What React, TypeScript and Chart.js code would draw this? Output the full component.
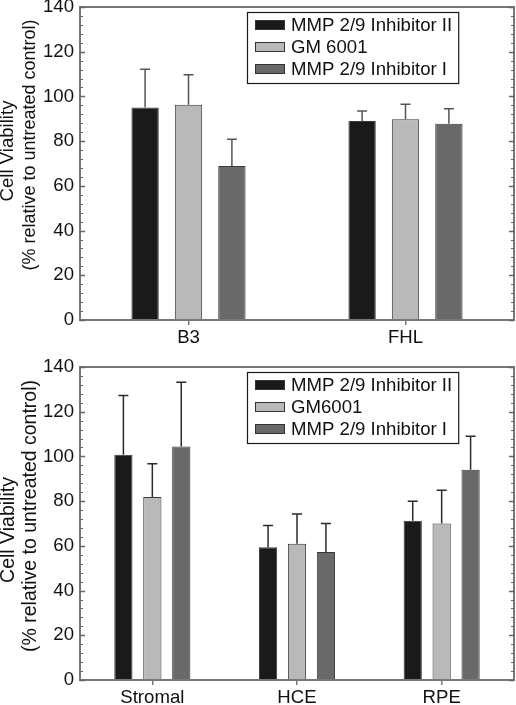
import React, { useEffect, useRef } from 'react';
import { Chart, registerables } from 'chart.js';

Chart.register(...registerables);

const FONT = "'Liberation Sans', Arial, Helvetica, sans-serif";

// ---------- data ----------
const topCategories = ['B3', 'FHL'];
const topSeriesLabels = ['MMP 2/9 Inhibitor II', 'GM 6001', 'MMP 2/9 Inhibitor I'];
const topInhibitorII = [95.1, 89.0];
const topGM6001 = [96.3, 89.8];
const topInhibitorI = [68.9, 87.8];
const topErrInhibitorII = [17.1, 4.5];
const topErrGM6001 = [13.4, 6.7];
const topErrInhibitorI = [12.0, 6.7];

const bottomCategories = ['Stromal', 'HCE', 'RPE'];
const bottomSeriesLabels = ['MMP 2/9 Inhibitor II', 'GM6001', 'MMP 2/9 Inhibitor I'];
const bottomInhibitorII = [100.7, 59.4, 71.2];
const bottomGM6001 = [81.9, 60.9, 70.0];
const bottomInhibitorI = [104.4, 57.2, 94.0];
const bottomErrInhibitorII = [26.5, 9.7, 8.8];
const bottomErrGM6001 = [14.8, 13.3, 14.9];
const bottomErrInhibitorI = [28.8, 12.8, 15.0];

const yMin = 0;
const yMax = 140;
const yMajorStep = 20;
const yMinorStep = 4;
const yTitleLines = ['Cell Viability', '(% relative to untreated control)'];

const seriesColors = ['#1a1a1a', '#b9b9b9', '#696969'];

const TEXT_SIZE = 18.6;

// ---------- plugin ----------
const decorPlugin = {
  id: 'decor',
  afterDatasetsDraw(chart: any, _args: any, opts: any) {
    const ctx = chart.ctx;
    const yScale = chart.scales.y;
    ctx.save();
    ctx.lineWidth = 1.5;
    ctx.strokeStyle = opts.errorColor;
    chart.data.datasets.forEach((ds: any, i: number) => {
      const meta = chart.getDatasetMeta(i);
      meta.data.forEach((bar: any, j: number) => {
        const v = ds.data[j];
        const e = ds.errors[j];
        const yTop = yScale.getPixelForValue(v + e);
        ctx.beginPath();
        ctx.moveTo(bar.x, bar.y);
        ctx.lineTo(bar.x, yTop);
        ctx.moveTo(bar.x - 5, yTop);
        ctx.lineTo(bar.x + 5, yTop);
        ctx.stroke();
      });
    });
    ctx.restore();
  },
  afterDraw(chart: any, _args: any, opts: any) {
    const ctx = chart.ctx;
    const area = chart.chartArea;
    const yScale = chart.scales.y;
    ctx.save();

    // frame
    ctx.strokeStyle = '#777777';
    ctx.lineWidth = 2;
    ctx.strokeRect(area.left, area.top, area.right - area.left, area.bottom - area.top);

    // y ticks (inward, both sides)
    ctx.lineWidth = 1;
    ctx.strokeStyle = '#666666';
    for (let v = yMin; v <= yMax + 1e-9; v += yMinorStep) {
      const isMajor = Math.abs(v % yMajorStep) < 1e-9;
      if (isMajor) continue;
      const y = Math.round(yScale.getPixelForValue(v)) + 0.5;
      ctx.beginPath();
      ctx.moveTo(area.left, y);
      ctx.lineTo(area.left + 3, y);
      ctx.moveTo(area.right, y);
      ctx.lineTo(area.right - 3, y);
      ctx.stroke();
    }
    ctx.lineWidth = 1.5;
    for (let v = yMin; v <= yMax + 1e-9; v += yMajorStep) {
      const y = Math.round(yScale.getPixelForValue(v)) + 0.5;
      ctx.beginPath();
      ctx.moveTo(area.left, y);
      ctx.lineTo(area.left + 5, y);
      ctx.moveTo(area.right, y);
      ctx.lineTo(area.right - 5, y);
      ctx.stroke();
    }

    // legend
    ctx.font = `${TEXT_SIZE}px ${FONT}`;
    const labels: string[] = chart.data.datasets.map((d: any) => d.label);
    const textW = Math.max(...labels.map((l) => ctx.measureText(l).width));
    const boxW = 44 + textW + 6;
    const boxH = 71;
    const boxRight = area.right - 56;
    const boxLeft = Math.round(boxRight - boxW);
    const boxTop = area.top + 5;
    ctx.fillStyle = '#ffffff';
    ctx.fillRect(boxLeft, boxTop, boxW, boxH);
    ctx.strokeStyle = '#1a1a1a';
    ctx.lineWidth = 1.2;
    ctx.strokeRect(boxLeft + 0.5, boxTop + 0.5, boxW, boxH);
    chart.data.datasets.forEach((d: any, i: number) => {
      const cy = boxTop + 13 + i * 22;
      ctx.fillStyle = d.backgroundColor;
      ctx.fillRect(boxLeft + 8, cy - 5, 30, 10);
      ctx.strokeStyle = '#333333';
      ctx.lineWidth = 1;
      ctx.strokeRect(boxLeft + 8.5, cy - 4.5, 29, 9);
      ctx.fillStyle = '#111111';
      ctx.textAlign = 'left';
      ctx.textBaseline = 'middle';
      ctx.fillText(d.label, boxLeft + 44, cy + 1);
    });

    // y title
    ctx.fillStyle = '#111111';
    ctx.textAlign = 'center';
    ctx.textBaseline = 'alphabetic';
    opts.titles.forEach((t: any) => {
      ctx.save();
      ctx.font = `${t.size}px ${FONT}`;
      ctx.translate(t.x, t.y);
      ctx.rotate(-Math.PI / 2);
      ctx.fillText(t.text, 0, 0);
      ctx.restore();
    });

    ctx.restore();
  },
};

function buildConfig(
  categories: string[],
  labels: string[],
  values: number[][],
  errors: number[][],
  padTop: number,
  xHeight: number,
  errorColor: string,
  titles: any[]
) {
  return {
    type: 'bar',
    data: {
      labels: categories,
      datasets: labels.map((label, i) => ({
        label,
        data: values[i],
        errors: errors[i],
        backgroundColor: seriesColors[i],
        borderColor: '#3a3a3a',
        borderWidth: 1,
        categoryPercentage: 0.6,
        barPercentage: 0.63,
      })),
    },
    options: {
      animation: false,
      responsive: false,
      layout: { padding: { left: 0, right: 2, top: padTop, bottom: 0 } },
      plugins: {
        legend: { display: false },
        tooltip: { enabled: false },
        decor: { errorColor, titles },
      },
      scales: {
        x: {
          grid: {
            display: true,
            drawOnChartArea: false,
            drawTicks: true,
            tickLength: 5,
            offset: false,
            color: '#777777',
            lineWidth: 1.5,
          },
          border: { display: false },
          ticks: {
            font: { size: TEXT_SIZE, family: FONT },
            color: '#111111',
            padding: 2,
            maxRotation: 0,
            autoSkip: false,
          },
          afterFit: (s: any) => {
            s.height = xHeight;
            s.paddingLeft = 0;
            s.paddingRight = 0;
          },
        },
        y: {
          min: yMin,
          max: yMax,
          grid: { display: false, drawTicks: false },
          border: { display: false },
          ticks: {
            stepSize: yMajorStep,
            font: { size: TEXT_SIZE, family: FONT },
            color: '#111111',
            padding: 6,
          },
          afterFit: (s: any) => {
            s.width = 80;
            s.paddingTop = 0;
            s.paddingBottom = 0;
          },
        },
      },
    },
    plugins: [decorPlugin],
  };
}

function Panel({ width, height, config }: { width: number; height: number; config: any }) {
  const ref = useRef<HTMLCanvasElement | null>(null);
  useEffect(() => {
    if (!ref.current) return;
    const chart = new Chart(ref.current, config);
    return () => chart.destroy();
  }, [config]);
  return <canvas ref={ref} width={width} height={height} style={{ display: 'block', width, height }} />;
}

const topConfig = buildConfig(
  topCategories,
  topSeriesLabels,
  [topInhibitorII, topGM6001, topInhibitorI],
  [topErrInhibitorII, topErrGM6001, topErrInhibitorI],
  7,
  30,
  '#555555',
  [
    { text: yTitleLines[0], x: 13, y: 151, size: 18.6 },
    { text: yTitleLines[1], x: 35, y: 145, size: 18 },
  ]
);

const bottomConfig = buildConfig(
  bottomCategories,
  bottomSeriesLabels,
  [bottomInhibitorII, bottomGM6001, bottomInhibitorI],
  [bottomErrInhibitorII, bottomErrGM6001, bottomErrInhibitorI],
  17,
  25,
  '#2a2a2a',
  [
    { text: yTitleLines[0], x: 14, y: 180, size: 19.5 },
    { text: yTitleLines[1], x: 36, y: 166, size: 19.5 },
  ]
);

export default function App() {
  return (
    <div style={{ position: 'absolute', left: 0, top: 0, width: 516, height: 705, background: '#fff' }}>
      <Panel width={516} height={350} config={topConfig} />
      <Panel width={516} height={355} config={bottomConfig} />
    </div>
  );
}
